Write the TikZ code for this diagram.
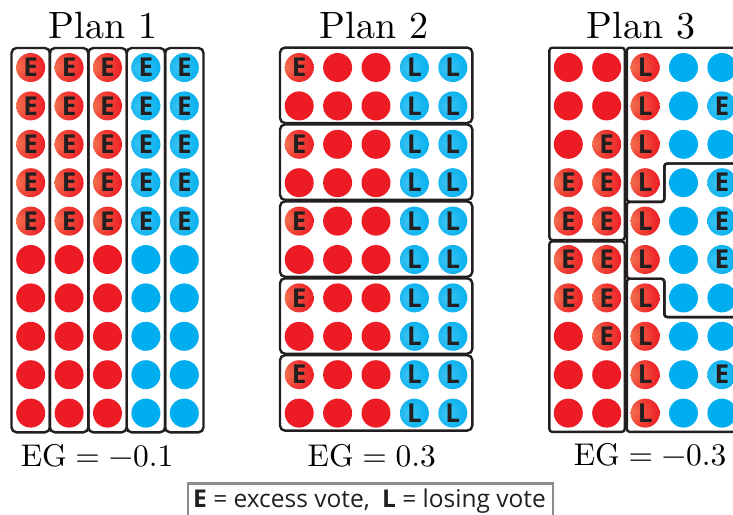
\documentclass[tikz,border=0pt]{standalone}
\usepackage{fontspec}
\newfontfamily\votefont{Open Sans}
\newfontfamily\lmten{lmroman10-regular.otf}
\definecolor{votered}{HTML}{ED1C24}
\definecolor{redhi}{HTML}{F3714F}
\definecolor{voteblue}{HTML}{00AEEF}
\definecolor{bluehi}{HTML}{3CC3F3}
\definecolor{bluelo}{HTML}{0098D4}
\definecolor{ink}{HTML}{231F20}
\definecolor{legendgray}{HTML}{8C8C8C}
\pgfdeclareradialshading{redball}{\pgfpoint{-26bp}{2bp}}{color(0bp)=(redhi); color(40bp)=(votered); color(80bp)=(votered)}
\pgfdeclareradialshading{blueball}{\pgfpoint{-10bp}{0bp}}{color(0bp)=(bluehi); color(35bp)=(voteblue); color(55bp)=(bluelo); color(70bp)=(bluelo)}
\newcommand\thk{\hspace{0.2778em}}
\tikzset{
  vote/.style={circle, minimum size=29pt, inner sep=0pt,
    font=\votefont\bfseries\fontsize{26}{26}\selectfont, text=ink},
  vr/.style={vote, fill=votered},
  vb/.style={vote, fill=voteblue},
  vre/.style={vote, shade, shading=redball},
  vbe/.style={vote, shade, shading=blueball},
  district/.style={draw=ink, line width=2.4pt, rounded corners=5pt},
  plantitle/.style={anchor=base, font=\lmten\fontsize{38}{40}\selectfont},
  eglabel/.style={anchor=base, font=\lmten\fontsize{31.4}{33}\selectfont},
  legendbox/.style={draw=legendgray, line width=2.2pt},
  legendtext/.style={anchor=base, text=ink, font=\votefont\fontsize{24.5}{26}\selectfont}
}
% #1 name, #2 x, #3 y, #4 code: 0 red, 1 red E, 2 red L, 3 blue, 4 blue E, 5 blue L
\newcommand\votecell[4]{\ifcase#4\relax
  \node[vr] (#1) at ({#2},{#3}) {};\or
  \node[vre] (#1) at ({#2},{#3}) {E};\or
  \node[vre] (#1) at ({#2},{#3}) {L};\or
  \node[vb] (#1) at ({#2},{#3}) {};\or
  \node[vbe] (#1) at ({#2},{#3}) {E};\or
  \node[vbe] (#1) at ({#2},{#3}) {L};\fi}
\begin{document}
\begin{tikzpicture}[x=1pt,y=-1pt]
\clip (0,0) rectangle (733,514);

% ---------------- Plan 1 ----------------
\node[plantitle] (t1) at (103,38.3) {Plan 1};
\foreach \c in {0,...,4}
  \draw[district] ({11.5+38.4*\c},48) rectangle ({11.5+38.4*(\c+1)},432.3);
\foreach \row [count=\r from 0] in
  {{1,1,1,4,4},{1,1,1,4,4},{1,1,1,4,4},{1,1,1,4,4},{1,1,1,4,4},
   {0,0,0,3,3},{0,0,0,3,3},{0,0,0,3,3},{0,0,0,3,3},{0,0,0,3,3}}
  {\foreach \t [count=\c from 0] in \row
     {\votecell{pa-\r-\c}{30.7+38.4*\c}{67.5+38.4*\r}{\t}}}
\node[eglabel] (eg1) at (97,466.8) {EG\thk=\thk−0.1};

% ---------------- Plan 2 ----------------
\node[plantitle] (t2) at (374,38.3) {Plan 2};
\foreach \k in {0,...,4}
  \draw[district] (280,{47.6+76.9*\k}) rectangle (472.3,{123.0+76.9*\k});
\foreach \row [count=\r from 0] in
  {{1,0,0,5,5},{0,0,0,5,5},{1,0,0,5,5},{0,0,0,5,5},{1,0,0,5,5},
   {0,0,0,5,5},{1,0,0,5,5},{0,0,0,5,5},{1,0,0,5,5},{0,0,0,5,5}}
  {\foreach \t [count=\c from 0] in \row
     {\votecell{pb-\r-\c}{299.2+38.4*\c}{67.5+38.4*\r}{\t}}}
\node[eglabel] (eg2) at (371.7,466.8) {EG\thk=\thk0.3};

% ---------------- Plan 3 ----------------
\node[plantitle] (t3) at (641,38.3) {Plan 3};
\begin{scope}[district, rounded corners=3pt]
  \draw (549.3,47.7) rectangle (624.8,240.0);
  \draw (549.3,241.4) rectangle (624.8,431.9);
  \draw (626.8,47.7) -- (745,47.7) -- (745,163.5) -- (664.3,163.5)
        -- (664.3,201.9) -- (626.8,201.9) -- cycle;
  \draw (626.8,201.9) -- (664.3,201.9) -- (664.3,163.5) -- (745,163.5)
        -- (745,317.1) -- (664.3,317.1) -- (664.3,278.7) -- (626.8,278.7) -- cycle;
  \draw (626.8,278.7) -- (664.3,278.7) -- (664.3,317.1) -- (745,317.1)
        -- (745,431.9) -- (626.8,431.9) -- cycle;
\end{scope}
\foreach \row [count=\r from 0] in
  {{0,0,2,3,3},{0,0,2,3,4},{0,1,2,3,3},{1,1,2,3,4},{1,1,2,3,4},
   {1,1,2,3,4},{1,1,2,3,3},{0,1,2,3,3},{0,0,2,3,4},{0,0,2,3,3}}
  {\foreach \t [count=\c from 0] in \row
     {\votecell{pc-\r-\c}{568.3+38.4*\c}{67.5+38.4*\r}{\t}}}
\node[eglabel] (eg3) at (650,465) {EG\thk=\thk−0.3};

% ---------------- Legend ----------------
\draw[legendbox] (188.3,483.5) rectangle (553.3,530);
\node[legendtext] (leg) at (369.5,507)
  {\textbf{E} = excess vote,\hspace{0.5em}\textbf{L} = losing vote};
\end{tikzpicture}
\end{document}
